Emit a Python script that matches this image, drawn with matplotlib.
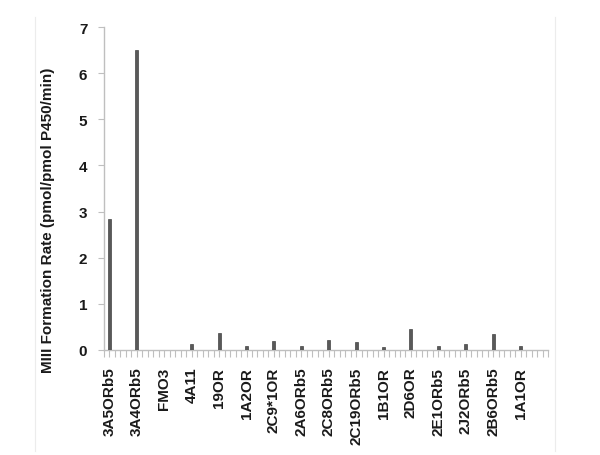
import matplotlib
matplotlib.use("Agg")
import matplotlib.pyplot as plt
from matplotlib.lines import Line2D
import numpy as np

categories = ["3A5ORb5", "3A4ORb5", "FMO3", "4A11", "19OR", "1A2OR", "2C9*1OR",
              "2A6ORb5", "2C8ORb5", "2C19ORb5", "1B1OR", "2D6OR", "2E1ORb5",
              "2J2ORb5", "2B6ORb5", "1A1OR"]
values = [2.83, 6.5, 0.01, 0.13, 0.37, 0.09, 0.19, 0.08, 0.22, 0.17, 0.065,
          0.46, 0.08, 0.12, 0.35, 0.09]
y_ticks = [0, 1, 2, 3, 4, 5, 6, 7]
ylabel = "MIII Formation Rate (pmol/pmol P450/min)"

plt.rcParams['font.family'] = ['Liberation Sans', 'DejaVu Sans']

fig = plt.figure(figsize=(6.0, 4.56), dpi=100)
W, H = 600, 456
ax = fig.add_axes([104 / W, 1 - 351 / H, (548 - 104) / W, (351 - 28) / H])

step = 5
pos = np.arange(len(categories)) * step
ax.bar(pos, values, width=0.55, color="#595959", edgecolor="#454545", linewidth=0.5, zorder=3)

ax.set_xlim(-1, 80)
ax.set_ylim(0, 7)
ax.set_yticks(y_ticks)
ax.set_yticklabels([str(t) for t in y_ticks], fontsize=11, fontweight='bold', color='#1a1a1a')
ax.set_xticks(pos)
ax.set_xticklabels(categories, rotation=90, fontsize=11, fontweight='bold', color='#1a1a1a')
ax.set_xticks(np.arange(-1, 81), minor=True)

ax.tick_params(axis='x', which='both', direction='out', length=5, width=0.8, color='#bfbfbf', pad=7)
ax.tick_params(axis='y', which='major', direction='out', length=4, width=0.8, color='#bfbfbf', pad=8)

for s in ['top', 'right']:
    ax.spines[s].set_visible(False)
for s in ['left', 'bottom']:
    ax.spines[s].set_color('#bfbfbf')
    ax.spines[s].set_linewidth(1.0)

ax.set_ylabel(ylabel, fontsize=11, fontweight='bold', color='#1a1a1a')
ax.yaxis.set_label_coords(-0.11, 0.405)

# faint chart-area border lines
fig.add_artist(Line2D([34.6 / W, 34.6 / W], [1 - 452 / H, 1 - 18 / H], color='#ececec', lw=0.8))
fig.add_artist(Line2D([555 / W, 555 / W], [1 - 452 / H, 1 - 18 / H], color='#ececec', lw=0.8))

fig.savefig("out.png", dpi=100)
